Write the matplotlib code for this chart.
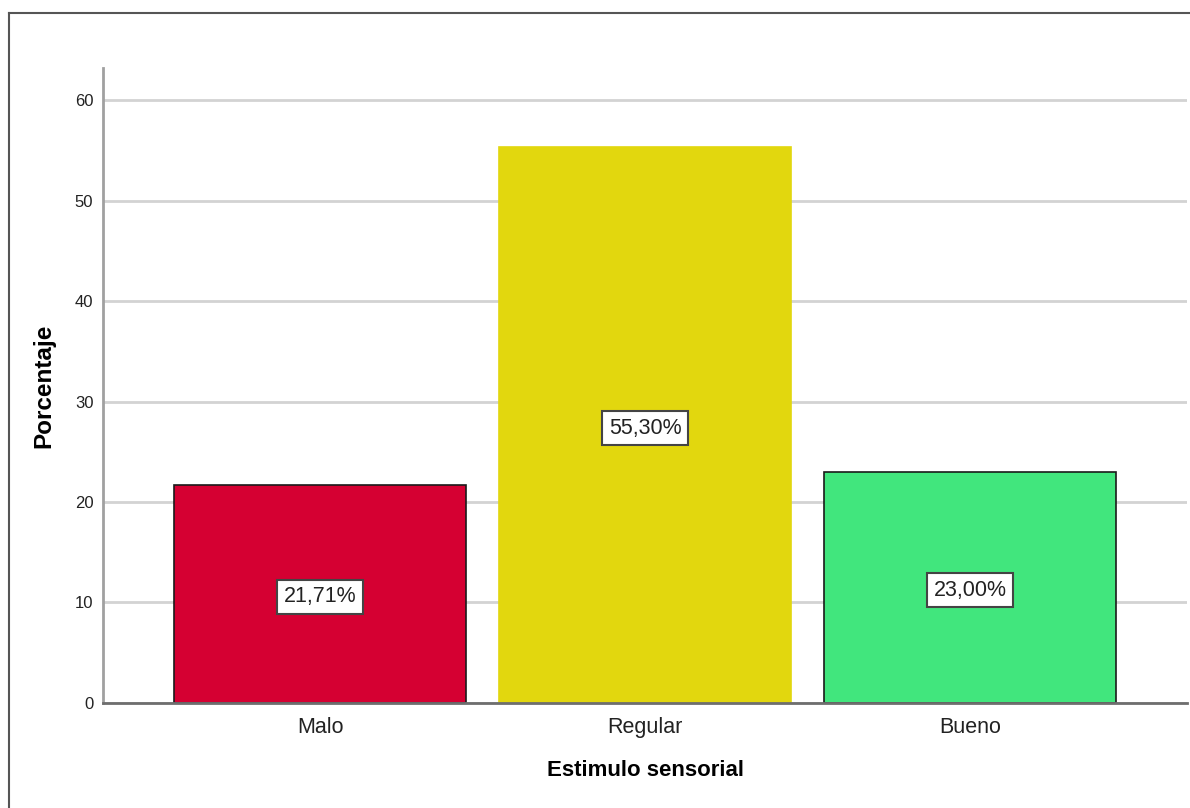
import matplotlib
matplotlib.use('Agg')
import matplotlib.pyplot as plt
from matplotlib.lines import Line2D

# Data
categories = ['Malo', 'Regular', 'Bueno']
percentages = [21.71, 55.30, 23.00]
yticks = [0, 10, 20, 30, 40, 50, 60]

bar_colors = ['#d50032', '#e2d70e', '#41e67d']
edge_colors = ['#1a1a1a', '#e2d70e', '#1a1a1a']

plt.rcParams['font.family'] = ['Liberation Sans', 'DejaVu Sans']

fig = plt.figure(figsize=(11.9, 8.08), dpi=100)
ax = fig.add_axes([0.0866, 0.1300, 0.9109, 0.7858])

x = list(range(len(categories)))
ax.set_axisbelow(True)
ax.yaxis.grid(True, color='#d3d3d3', linewidth=2)
bars = ax.bar(x, percentages, width=0.898, color=bar_colors,
              edgecolor=edge_colors, linewidth=1.2, zorder=2)

for xi, v in zip(x, percentages):
    txt = f"{v:.2f}".replace('.', ',') + '%'
    ax.text(xi, v / 2 - 0.3, txt, ha='center', va='center', fontsize=15.5,
            color='#222222', zorder=3,
            bbox=dict(boxstyle='square,pad=0.3', facecolor='white',
                      edgecolor='#444444', linewidth=1.5))

ax.set_xlim(-0.668, 2.668)
ax.set_ylim(0, 63.2)
ax.set_yticks(yticks)
ax.set_xticks(x)
ax.set_xticklabels(categories, fontsize=15.5, color='#222222')
for lab in ax.get_yticklabels():
    lab.set_color('#222222')
ax.tick_params(axis='y', length=0, pad=7, labelsize=12)
ax.tick_params(axis='x', length=0, pad=10)

for s in ['top', 'right']:
    ax.spines[s].set_visible(False)
ax.spines['left'].set_color('#a0a0a0')
ax.spines['left'].set_linewidth(2)
ax.spines['bottom'].set_color('#6e6e6e')
ax.spines['bottom'].set_linewidth(2)

ax.set_xlabel('Estimulo sensorial', fontsize=16, fontweight='bold', labelpad=16)
ax.set_ylabel('Porcentaje', fontsize=17.5, fontweight='bold', labelpad=14)

# outer frame (left and top edges visible)
fig.add_artist(Line2D([9 / 1190, 9 / 1190], [0, 1 - 13 / 808],
                      transform=fig.transFigure, color='#555555', linewidth=1.5))
fig.add_artist(Line2D([9 / 1190, 1], [1 - 13 / 808, 1 - 13 / 808],
                      transform=fig.transFigure, color='#555555', linewidth=1.5))

fig.savefig('out.png', dpi=100)
